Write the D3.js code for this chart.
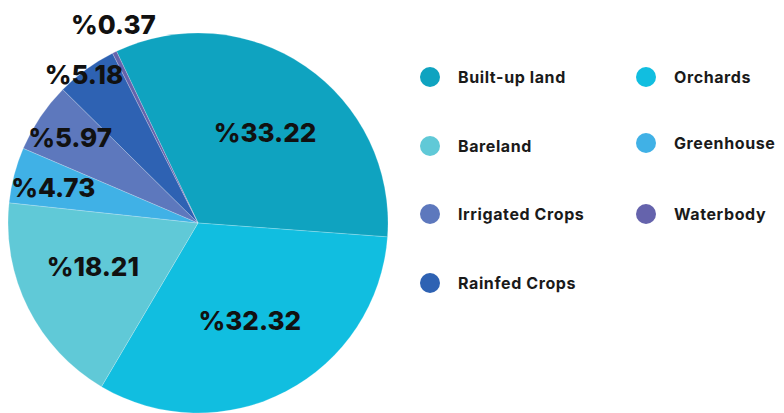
<!DOCTYPE html>
<html><head><meta charset="utf-8">
<script src="https://cdn.jsdelivr.net/npm/d3@7"></script>
<style>body{margin:0;background:#fff}</style>
</head><body>
<svg id="c" width="784" height="413"></svg>
<script>
const categories = ["Built-up land","Orchards","Bareland","Greenhouse","Irrigated Crops","Rainfed Crops","Waterbody"];
const values = [33.22, 32.32, 18.21, 4.73, 5.97, 5.18, 0.37];
const colors = ["#0fa3c0","#11bee0","#60c9d7","#40b1e6","#5d78bd","#2e62b3","#6563ac"];
const legendOrder = ["Built-up land","Orchards","Bareland","Greenhouse","Irrigated Crops","Waterbody","Rainfed Crops"];

const svg = d3.select("#c");
const cx = 198, cy = 223, R = 190;
const startA = -25.4 * Math.PI / 180;
const pie = d3.pie().sort(null).value(d => d).startAngle(startA).endAngle(startA + 2*Math.PI);
const arcs = pie(values);
const arc = d3.arc().innerRadius(0).outerRadius(R);
const g = svg.append("g").attr("transform", `translate(${cx},${cy})`);
g.selectAll("path").data(arcs).join("path")
  .attr("d", arc).attr("fill", (d,i) => colors[i])
  .attr("stroke", "#ffffff").attr("stroke-width", 0.4).attr("stroke-opacity", 0.5);

const labelR = [113, 110, 114, 149, 154, 187, 216];
const angOff = [2, -0.5, 4, -1, 0, -1.5, 3];
g.selectAll("text").data(arcs).join("text")
  .attr("x", (d,i) => { const a = (d.startAngle + d.endAngle)/2 + angOff[i]*Math.PI/180; return labelR[i]*Math.sin(a); })
  .attr("y", (d,i) => { const a = (d.startAngle + d.endAngle)/2 + angOff[i]*Math.PI/180; return -labelR[i]*Math.cos(a); })
  .attr("text-anchor", "middle").attr("dominant-baseline", "central")
  .attr("font-family", "Inter, 'Open Sans', sans-serif").attr("font-weight", 800)
  .attr("font-size", 26).attr("fill", "#111")
  .text((d,i) => "%" + values[i].toFixed(2));

const legPos = [[430,77],[646,77],[430,146],[646,143],[430,214],[646,214],[430,283]];
const lg = svg.append("g");
legendOrder.forEach((name, k) => {
  const i = categories.indexOf(name);
  const [x, y] = legPos[k];
  lg.append("circle").attr("cx", x).attr("cy", y).attr("r", 10).attr("fill", colors[i]);
  lg.append("text").attr("x", x + (k % 2 ? 28 : 28)).attr("y", y)
    .attr("dominant-baseline", "central")
    .attr("font-family", "Inter, 'Open Sans', sans-serif").attr("font-weight", 700)
    .attr("font-size", 16).attr("letter-spacing", "0.6px").attr("fill", "#1a1a1a").text(name);
});
</script>
</body></html>
